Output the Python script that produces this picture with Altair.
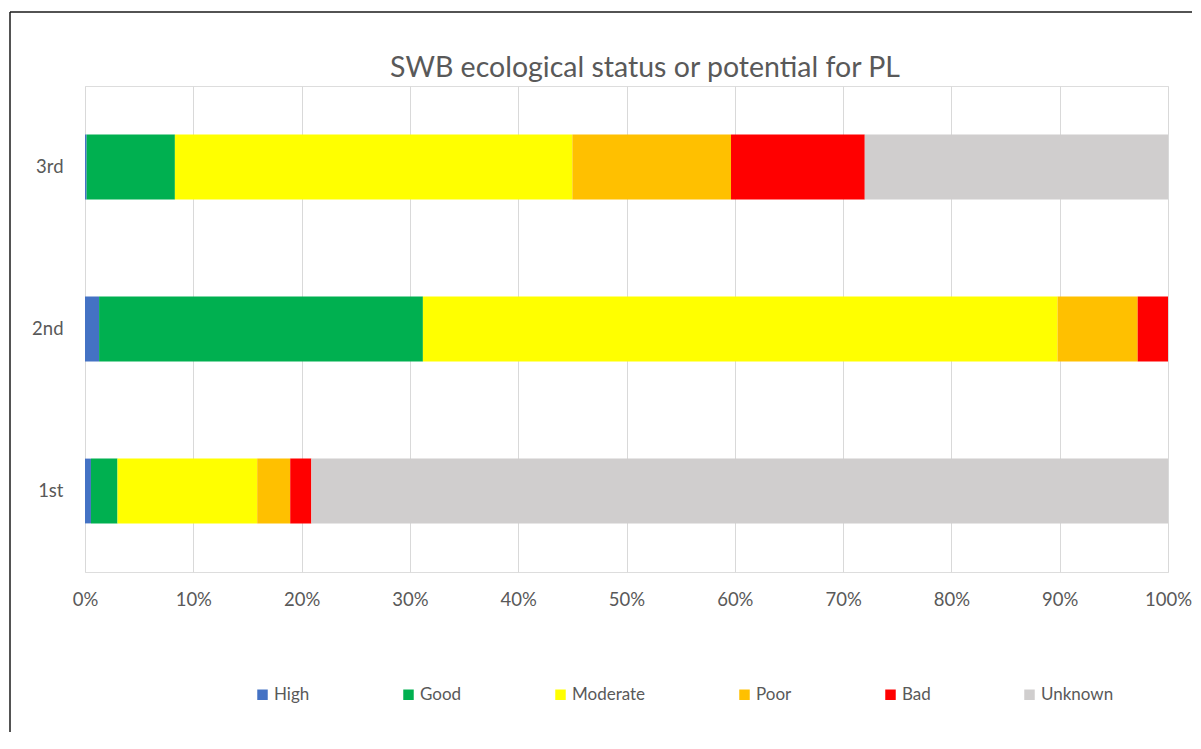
import altair as alt
import pandas as pd

categories = ["1st", "2nd", "3rd"]
statuses = ["High", "Good", "Moderate", "Poor", "Bad", "Unknown"]
colors = ["#4472C4", "#00B050", "#FFFF00", "#FFC000", "#FF0000", "#D0CECE"]
title_text = "SWB ecological status or potential for PL"

# percent shares per status, per category
high = [0.55, 1.3, 0.15]
good = [2.45, 29.9, 8.15]
moderate = [12.9, 58.6, 36.7]
poor = [3.05, 7.4, 14.65]
bad = [1.95, 2.8, 12.35]
unknown = [79.1, 0.0, 28.0]

series = [high, good, moderate, poor, bad, unknown]
rows = []
for si, (s, vals) in enumerate(zip(statuses, series)):
    for c, v in zip(categories, vals):
        rows.append({"cat": c, "status": s, "value": v / 100.0, "ord": si})
df = pd.DataFrame(rows)

FONT = "Lato"
GREY = "#595959"

bars = alt.Chart(df).mark_bar().encode(
    x=alt.X("value:Q", stack="zero",
            scale=alt.Scale(domain=[0, 1], nice=False, zero=True),
            axis=alt.Axis(format=".0%", values=[i / 10 for i in range(11)],
                          title=None, domain=False, ticks=False, grid=True,
                          gridColor="#D9D9D9", gridWidth=1,
                          labelFont=FONT, labelFontSize=18.5, labelColor=GREY,
                          labelPadding=18, labelFlush=False)),
    y=alt.Y("cat:N", sort=["3rd", "2nd", "1st"],
            scale=alt.Scale(paddingInner=0.6, paddingOuter=0.3),
            axis=alt.Axis(title=None, domain=False, ticks=False, grid=False,
                          labelFont=FONT, labelFontSize=18.5, labelColor=GREY,
                          labelPadding=22)),
    color=alt.Color("status:N",
                    scale=alt.Scale(domain=statuses, range=colors),
                    legend=alt.Legend(title=None, orient="none", direction="horizontal",
                                      legendX=169, legendY=600,
                                      symbolType="square", symbolSize=110,
                                      symbolStrokeWidth=0,
                                      labelFont=FONT, labelFontSize=17, labelColor=GREY,
                                      labelOffset=3, columnPadding=90,
                                      columns=6)),
    order=alt.Order("ord:Q", sort="ascending"),
)

one_df = pd.DataFrame({"t": [title_text]})
left_line = alt.Chart(one_df).mark_rule(color="#1a1a1a", strokeWidth=1.5).encode(
    x=alt.value(-75), y=alt.value(-74), y2=alt.value(700))
top_line = alt.Chart(one_df).mark_rule(color="#1a1a1a", strokeWidth=1.5).encode(
    x=alt.value(-75), x2=alt.value(1200), y=alt.value(-74))
title = alt.Chart(one_df).mark_text(font=FONT, fontSize=28.5, color=GREY,
                                    align="center", baseline="middle").encode(
    text="t:N", x=alt.value(560), y=alt.value(-18))

chart = alt.layer(bars, left_line, top_line, title).properties(
    width=1083, height=486,
    autosize=alt.AutoSizeParams(type="none"),
    padding={"left": 77, "top": 78, "right": 24, "bottom": 160},
).configure_view(stroke=None).configure(background="white")

chart.save("out.html", embed_options={"renderer": "svg", "actions": False})
